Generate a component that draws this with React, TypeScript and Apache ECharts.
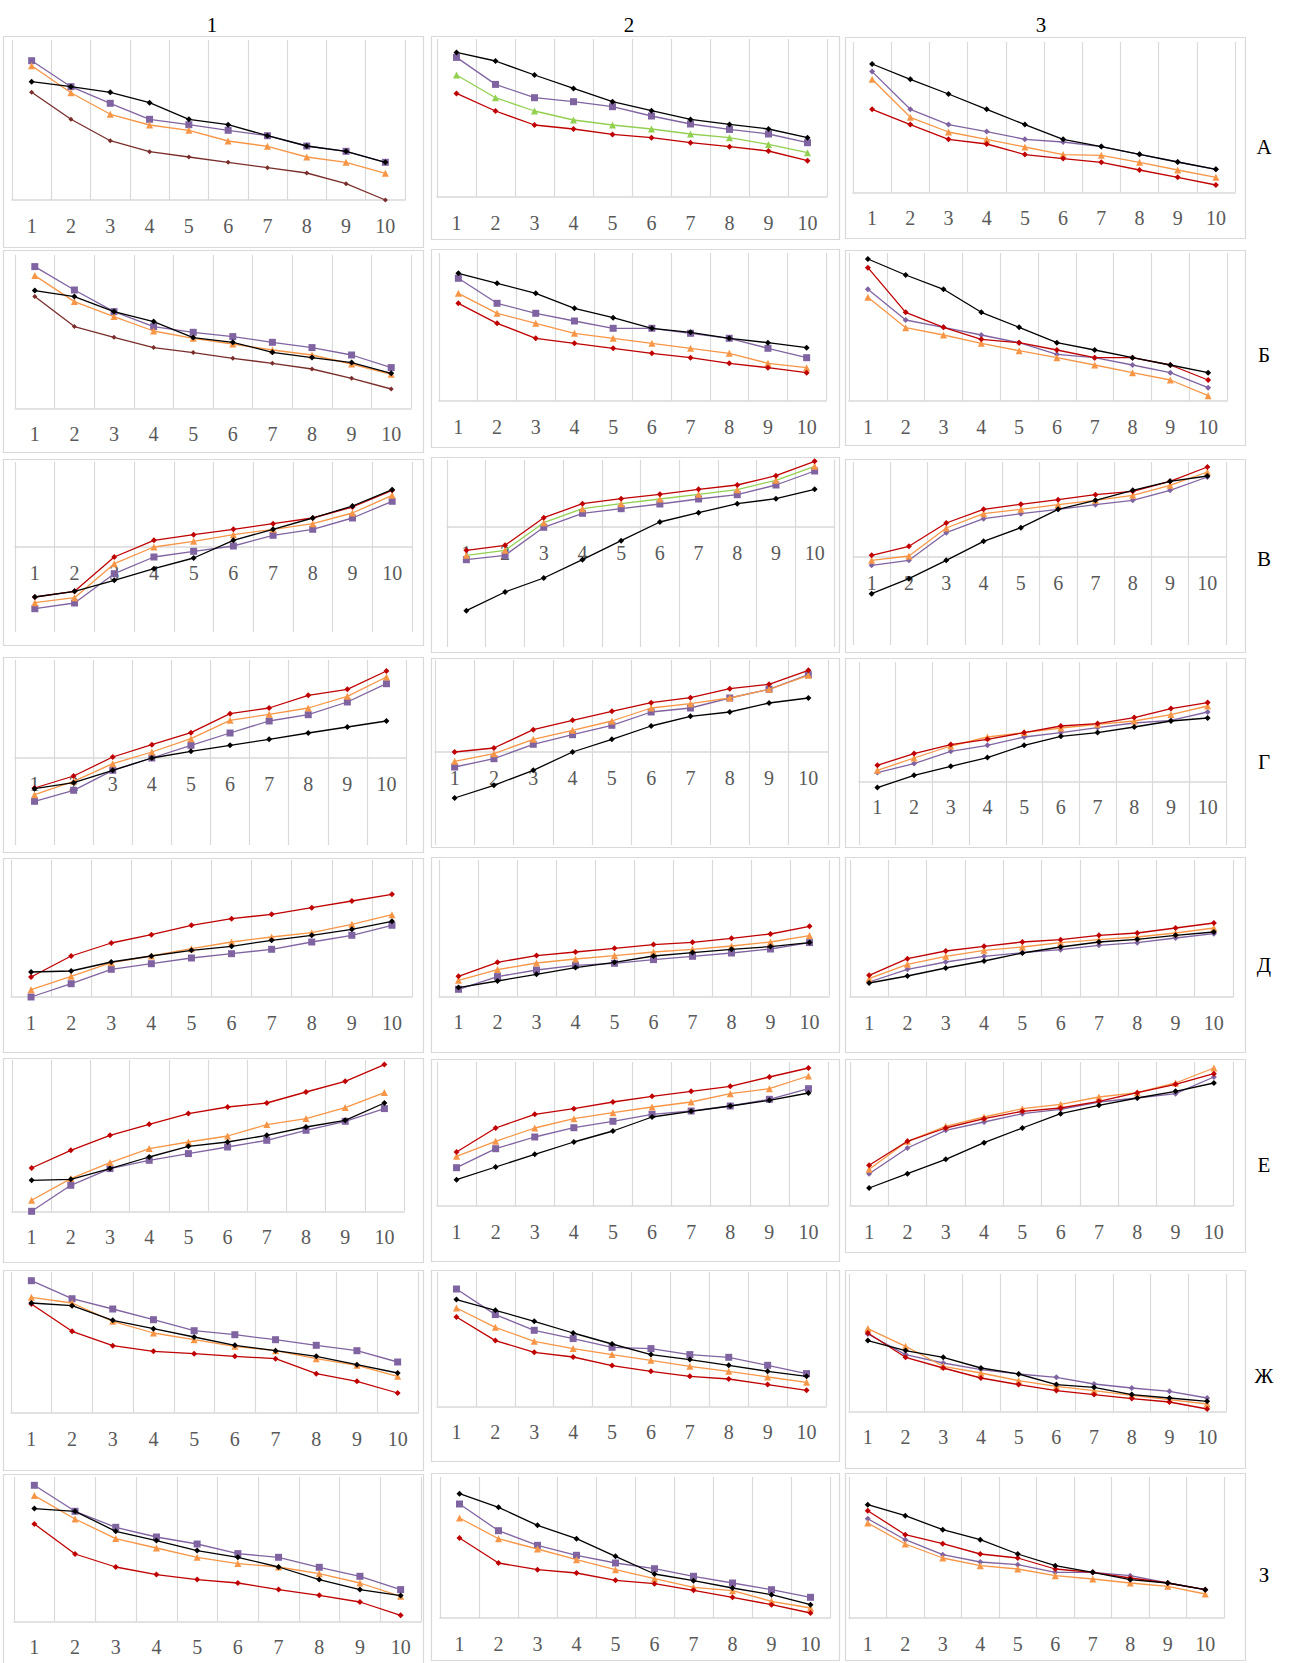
import React, { useEffect, useRef } from "react";
import * as echarts from "echarts";

// ---------- categories / labels ----------
const categories = ["1", "2", "3", "4", "5", "6", "7", "8", "9", "10"];
const columnTitles = ["1", "2", "3"];
const rowLabels = ["А", "Б", "В", "Г", "Д", "Е", "Ж", "З"];

// ---------- data (arbitrary units above the axis) ----------
// Row А
const A1_purple = [139.3, 113.3, 96.7, 80.7, 75.3, 69.7, 64.3, 54, 48.7, 37.7];
const A1_orange = [134.3, 107.3, 85.7, 75, 69.7, 59, 53.7, 43, 37.7, 26.7];
const A1_brown = [107.7, 80.7, 59.3, 48.3, 43, 37.7, 32.3, 27, 16.3, 0];
const A1_black = [118.3, 113.3, 107.7, 97.3, 80.7, 75.3, 64.3, 54, 48.7, 37.7];

const A2_purple = [139.3, 112.3, 99, 95, 90, 80.7, 72.7, 67.3, 62.7, 54];
const A2_green = [121.7, 99, 85.7, 76.7, 71.7, 67.7, 62.7, 59, 52.3, 44];
const A2_red = [103.3, 85.7, 71.7, 67.7, 62.3, 59, 54, 50, 45.7, 36];
const A2_black = [144.3, 135.7, 121.7, 108.3, 95, 86, 77.3, 72.3, 67.7, 59];

const A3_purple = [120.7, 83, 67.7, 60.7, 53, 50.3, 45.7, 38, 30.3, 23];
const A3_orange = [113, 75, 60.3, 53, 45.3, 37.7, 37, 30, 22.3, 15];
const A3_red = [83, 67.7, 53, 48.3, 37.7, 33.7, 30, 22.3, 15, 7.3];
const A3_black = [128.3, 113, 98.3, 83, 67.7, 53, 45.7, 38, 30.3, 23];

// Row Б
const B1_purple = [141.7, 118.3, 96.7, 81.7, 76, 71.7, 66, 60.7, 53.3, 40.7];
const B1_orange = [132.7, 106.7, 91.7, 77.3, 70, 64.3, 58.3, 53.3, 44.3, 34];
const B1_brown = [111.7, 81.7, 71, 60.7, 55.7, 50, 45, 39.3, 30, 19.3];
const B1_black = [117.7, 111.7, 96.7, 86.7, 70.7, 66, 56, 50.7, 45.7, 35];

const B2_purple = [122.7, 97.7, 87.7, 80, 72.7, 72.7, 67.7, 62.7, 52.7, 43.3];
const B2_orange = [107.7, 87.7, 77.7, 67.7, 62.7, 57.7, 52.7, 47.7, 37.7, 33.3];
const B2_red = [97.7, 77.7, 62.7, 57.7, 52.7, 47.7, 43.3, 37.7, 33.3, 28.3];
const B2_black = [127.7, 117.7, 107.7, 92.7, 83.3, 72.7, 68.7, 62.7, 58.3, 53.3];

const B3_purple = [111.7, 81, 73.7, 66, 58.3, 46.7, 43.3, 36, 28.3, 13.3];
const B3_orange = [103.7, 73.3, 66, 57.7, 50.3, 43.3, 36, 28.3, 21, 5.3];
const B3_red = [133.3, 88.7, 73.7, 61.7, 58.3, 51, 43.3, 43.3, 36, 21];
const B3_black = [142, 126, 111.7, 88.7, 73.7, 58.3, 51, 43.3, 36, 28.3];

// Row В
const V1_purple = [-61.7, -56, -26.7, -10, -4.3, 1, 11.7, 17.7, 29, 45.7];
const V1_orange = [-55.7, -50.7, -16.7, 0, 5.7, 12.3, 17.7, 23.3, 34, 51.7];
const V1_red = [-50, -44.3, -10, 6.7, 12.3, 17.7, 23.3, 29, 40, 56.7];
const V1_black = [-50, -44.3, -33.3, -21.7, -11, 6.7, 17.7, 29, 41, 57.3];

const V2_purple = [-32.7, -28.3, -0.3, 13.7, 18.3, 23, 28, 32.3, 42, 56];
const V2_green = [-28.3, -23.3, 4.3, 18.3, 23.3, 28, 32.7, 37.3, 46.7, 60.7];
const V2_red = [-23.3, -18.3, 9.3, 23.3, 28.3, 32.7, 37.7, 42, 51.3, 65.7];
const V2_black = [-83.7, -65, -51, -32.7, -13.7, 5, 14.3, 23.3, 28.3, 37.7];

const V3_purple = [-8.3, -3.3, 24.3, 38.3, 43.3, 47.7, 52.3, 56.7, 66.7, 80];
const V3_orange = [-3.3, 1, 29, 43.3, 47.7, 52.3, 56.7, 61.7, 71.7, 85];
const V3_red = [1.7, 10.7, 34, 47.7, 52.7, 57.3, 62.3, 65.7, 75.7, 90];
const V3_black = [-36.7, -21.7, -3.3, 15.7, 29.3, 47.7, 56.7, 66.7, 75.7, 81];

// Row Г
const G1_purple = [-43.3, -32.3, -12.3, 0, 12.7, 25, 37, 43.3, 56, 74.3];
const G1_orange = [-36.7, -23.3, -5.7, 6, 19.3, 37.7, 43.7, 50, 61.7, 81];
const G1_red = [-30, -18, 1, 13.3, 25.3, 44.3, 50, 62.7, 68.7, 87];
const G1_black = [-30.7, -24.7, -12.3, 0, 6.7, 12.7, 18.7, 25, 31, 37];

const G2_purple = [-15, -6.7, 7.7, 17.3, 26.7, 40, 44, 54, 62.7, 77.3];
const G2_orange = [-9.3, -1.7, 12.7, 21.7, 31, 44, 48.3, 54, 62.7, 76.7];
const G2_red = [0, 4, 22.3, 31.7, 40.7, 49.3, 54.3, 63.3, 67.7, 81.7];
const G2_black = [-46, -33.3, -18.3, 0, 12.7, 26, 35.7, 40, 49, 54];

const G3_purple = [8.7, 17.7, 30, 36, 44.3, 48.7, 53.7, 58.3, 61, 69.3];
const G3_orange = [11, 23.3, 35.3, 44.3, 48.7, 53.3, 57, 60.3, 66.7, 75.3];
const G3_red = [16, 27.7, 36.7, 42, 48.7, 55.3, 57.7, 63.7, 72.7, 78.7];
const G3_black = [-6.3, 6, 15, 23.7, 36, 45, 48.7, 54.3, 60.3, 63.3];

// Row Д
const D1_purple = [0, 13.3, 27.7, 33.3, 39, 43.3, 47.7, 55, 61.7, 71.7];
const D1_orange = [7.3, 20.7, 34.3, 41, 48.3, 55, 60, 64.3, 72.7, 82.3];
const D1_red = [20, 41, 54, 62.3, 71.7, 78.3, 82.7, 89.3, 96, 102.7];
const D1_black = [25, 26, 35, 41, 46.7, 50.7, 56.7, 61.7, 67.7, 75.7];

const D2_purple = [7, 19.7, 26.3, 31, 33, 36.7, 40, 43.3, 47.3, 53.7];
const D2_orange = [16, 26.7, 33.3, 37.3, 40.7, 44.3, 47, 50.3, 54.3, 60.7];
const D2_red = [20, 34, 40.7, 44.3, 48, 51.7, 54, 58, 62.3, 70];
const D2_black = [8.7, 15.3, 22, 28.7, 34, 40.3, 43.7, 47, 49.7, 53.7];

const D3_purple = [15, 27.7, 35, 40.7, 44.3, 47.3, 51.7, 54.3, 59, 63.3];
const D3_orange = [18.3, 32.7, 40.7, 46.7, 50, 54.3, 57.3, 60, 64, 69];
const D3_red = [21.7, 38.3, 46, 50.7, 55, 57.3, 61.7, 64, 69, 74];
const D3_black = [14, 21, 29, 36, 44, 50, 55, 57.7, 61.7, 65];

// Row Е
const E1_purple = [0, 26, 42.7, 51, 57.7, 64.3, 71, 81, 90, 102.7];
const E1_orange = [11, 32.7, 48.7, 62.7, 69.3, 75.3, 86.7, 92.7, 103.7, 118.7];
const E1_red = [43.3, 61, 76, 87, 97.7, 104.3, 108.3, 119.3, 130, 146.7];
const E1_black = [31, 32, 42.7, 54.3, 65, 69.3, 76, 84.3, 91, 108.3];

const E2_purple = [38.3, 57.3, 69, 78.3, 84.7, 91.7, 95, 100, 106.7, 117.3];
const E2_orange = [49.7, 64.7, 78, 87.3, 93.3, 99, 104, 112.3, 117.3, 130];
const E2_red = [54, 78, 91.7, 97.3, 104, 109.7, 114.7, 119.7, 129, 138];
const E2_black = [26.3, 39, 51.7, 64, 75, 89, 94.7, 100, 105.7, 113];

const E3_purple = [32.3, 58, 75.7, 84, 92.3, 96.7, 104, 108, 112.3, 129];
const E3_orange = [36.7, 64.7, 79.7, 89, 97.3, 101.7, 109, 113.3, 123, 138];
const E3_red = [40.7, 64.7, 78, 87.3, 94.7, 98, 104.7, 113.3, 121.7, 132.3];
const E3_black = [18, 32.3, 46.7, 63.3, 78, 92.3, 100.7, 108, 114.7, 123];

// Row Ж
const Zh1_purple = [132.3, 114.3, 104, 93.3, 82.3, 78.3, 73.3, 67.7, 62.3, 51];
const Zh1_orange = [115.7, 110, 91.7, 80, 73.3, 66.7, 62.3, 54.3, 47.7, 36.7];
const Zh1_red = [109, 81.7, 67.3, 61.7, 59.3, 56.7, 54.3, 39.3, 31.7, 20];
const Zh1_black = [110, 107.3, 92.7, 84.3, 76, 67.7, 62.3, 56.7, 48.3, 40];

const Zh2_purple = [117.3, 91.7, 76, 67.7, 59, 57.7, 51.7, 49, 41, 32.7];
const Zh2_orange = [98.3, 79, 65, 57.7, 51.7, 46, 40, 35, 29.3, 24];
const Zh2_red = [89.3, 65.7, 54, 49.3, 40.7, 35, 30, 27.3, 21.7, 16];
const Zh2_black = [106.7, 96, 85, 73.3, 62.3, 51.7, 46.7, 41, 35, 30];

const Zh3_purple = [77.3, 56.7, 48.3, 41.7, 37.3, 34, 27.3, 23.3, 20, 13.3];
const Zh3_orange = [82.7, 65, 45, 38.3, 30.7, 25, 20.7, 16, 11.7, 7.3];
const Zh3_red = [78.3, 54, 43.3, 33.3, 26.7, 20.7, 16.7, 12.7, 9.3, 2.3];
const Zh3_black = [70.7, 60.7, 54, 43.3, 37.3, 26.7, 24, 16.7, 13.3, 10];

// Row З
const Z1_purple = [136, 110, 94, 84.3, 77.3, 67.7, 64, 54, 45, 31.7];
const Z1_orange = [125.7, 102.3, 82.7, 73.3, 64, 57.7, 54.3, 47.7, 38.3, 25];
const Z1_red = [97.3, 67.3, 54.3, 46.7, 41.7, 38.3, 31.7, 26, 19.3, 6];
const Z1_black = [112.7, 110, 90, 80.7, 70.7, 64, 54.3, 41.7, 31.7, 25.7];

const Z2_purple = [114, 87.3, 72.7, 62.7, 55, 49.3, 41.7, 35, 28.3, 20.7];
const Z2_orange = [100, 79.3, 69, 58.3, 48.3, 39.3, 30.7, 27.3, 16.7, 10];
const Z2_red = [80, 55, 48.3, 45, 37.7, 34.3, 27.7, 20.7, 13.3, 5];
const Z2_black = [124.3, 110.7, 92.7, 79.3, 61.7, 44, 37.3, 30, 23.3, 13.3];

const Z3_purple = [99.3, 78.3, 63.3, 56, 53.3, 45.7, 45.7, 42.3, 35, 28.3];
const Z3_orange = [95, 74, 60, 52.3, 49, 42.3, 39, 35, 31.7, 24];
const Z3_red = [107.3, 83.3, 74.3, 64, 60, 49, 45.7, 40, 35, 28.3];
const Z3_black = [113.3, 102.3, 88.3, 78.3, 64, 52.3, 45.7, 38.3, 35, 28.3];

// ---------- series styles ----------
type Style = { line: string; marker: string; symbol: string; size: number };
const STYLES: Record<string, Style> = {
  black: { line: "#000000", marker: "#000000", symbol: "diamond", size: 6 },
  purple: { line: "#8064A2", marker: "#8064A2", symbol: "rect", size: 7 },
  purpleD: { line: "#8064A2", marker: "#8064A2", symbol: "diamond", size: 6 },
  orange: { line: "#F79646", marker: "#F79646", symbol: "triangle", size: 7 },
  red: { line: "#C00000", marker: "#C00000", symbol: "diamond", size: 6 },
  brown: { line: "#7A2E2B", marker: "#7A2E2B", symbol: "diamond", size: 5 },
  green: { line: "#92D050", marker: "#92D050", symbol: "triangle", size: 7 },
  greenOrange: { line: "#92D050", marker: "#F79646", symbol: "triangle", size: 7 },
};

const PANEL_SERIES: Record<string, [string, number[]][]> = {
  r0c0: [["purple", A1_purple], ["orange", A1_orange], ["brown", A1_brown], ["black", A1_black]],
  r0c1: [["purple", A2_purple], ["green", A2_green], ["red", A2_red], ["black", A2_black]],
  r0c2: [["purpleD", A3_purple], ["orange", A3_orange], ["red", A3_red], ["black", A3_black]],
  r1c0: [["purple", B1_purple], ["orange", B1_orange], ["brown", B1_brown], ["black", B1_black]],
  r1c1: [["purple", B2_purple], ["orange", B2_orange], ["red", B2_red], ["black", B2_black]],
  r1c2: [["purpleD", B3_purple], ["orange", B3_orange], ["red", B3_red], ["black", B3_black]],
  r2c0: [["purple", V1_purple], ["orange", V1_orange], ["red", V1_red], ["black", V1_black]],
  r2c1: [["purple", V2_purple], ["greenOrange", V2_green], ["red", V2_red], ["black", V2_black]],
  r2c2: [["purpleD", V3_purple], ["orange", V3_orange], ["red", V3_red], ["black", V3_black]],
  r3c0: [["purple", G1_purple], ["orange", G1_orange], ["red", G1_red], ["black", G1_black]],
  r3c1: [["purple", G2_purple], ["orange", G2_orange], ["red", G2_red], ["black", G2_black]],
  r3c2: [["purpleD", G3_purple], ["orange", G3_orange], ["red", G3_red], ["black", G3_black]],
  r4c0: [["purple", D1_purple], ["orange", D1_orange], ["red", D1_red], ["black", D1_black]],
  r4c1: [["purple", D2_purple], ["orange", D2_orange], ["red", D2_red], ["black", D2_black]],
  r4c2: [["purpleD", D3_purple], ["orange", D3_orange], ["red", D3_red], ["black", D3_black]],
  r5c0: [["purple", E1_purple], ["orange", E1_orange], ["red", E1_red], ["black", E1_black]],
  r5c1: [["purple", E2_purple], ["orange", E2_orange], ["red", E2_red], ["black", E2_black]],
  r5c2: [["purpleD", E3_purple], ["orange", E3_orange], ["red", E3_red], ["black", E3_black]],
  r6c0: [["purple", Zh1_purple], ["orange", Zh1_orange], ["red", Zh1_red], ["black", Zh1_black]],
  r6c1: [["purple", Zh2_purple], ["orange", Zh2_orange], ["red", Zh2_red], ["black", Zh2_black]],
  r6c2: [["purpleD", Zh3_purple], ["orange", Zh3_orange], ["red", Zh3_red], ["black", Zh3_black]],
  r7c0: [["purple", Z1_purple], ["orange", Z1_orange], ["red", Z1_red], ["black", Z1_black]],
  r7c1: [["purple", Z2_purple], ["orange", Z2_orange], ["red", Z2_red], ["black", Z2_black]],
  r7c2: [["purpleD", Z3_purple], ["orange", Z3_orange], ["red", Z3_red], ["black", Z3_black]],
};

// ---------- layout (pixels) ----------
const COL_BOX: [number, number][] = [[3, 423], [431, 839], [845, 1245]];
const COL_TITLE_X = [212, 629, 1041];
const ROW_LABEL_X = 1264;
const ROW_LABEL_Y = [147, 355, 559, 762, 965, 1165, 1376, 1575];

// [row, col, boxTop, boxBottom, plotLeft, plotRight, plotTop, axisY, plotBottom]
const LAYOUT: number[][] = [
  [0, 0, 36, 247, 12, 405, 40, 200, 200],
  [0, 1, 36, 239, 437, 827, 39, 196.7, 196.7],
  [0, 2, 37, 238, 853, 1235, 42, 192.3, 192.3],
  [1, 0, 250, 452, 15, 411, 255, 408.3, 408.3],
  [1, 1, 249, 447, 439, 826, 253, 401, 401],
  [1, 2, 250, 445, 849, 1227, 253, 401, 401],
  [2, 0, 459, 645, 15, 412, 462, 547, 632],
  [2, 1, 457, 652, 447, 834, 460, 527, 647],
  [2, 2, 459, 652, 853, 1226, 462, 557, 645],
  [3, 0, 657, 852, 15, 406, 660, 758, 845],
  [3, 1, 658, 847, 435, 828, 660, 752, 845],
  [3, 2, 658, 847, 859, 1226, 662, 781.3, 845],
  [4, 0, 858, 1052, 11, 412, 860, 997, 997],
  [4, 1, 857, 1052, 439, 829, 860, 996.3, 996.3],
  [4, 2, 857, 1052, 850, 1233, 860, 997, 997],
  [5, 0, 1058, 1262, 12, 404, 1060, 1211.3, 1211.3],
  [5, 1, 1059, 1261, 437, 828, 1062, 1206, 1206],
  [5, 2, 1059, 1252, 850, 1233, 1062, 1206, 1206],
  [6, 0, 1270, 1470, 11, 418, 1272, 1413, 1413],
  [6, 1, 1270, 1461, 437, 826, 1272, 1406.3, 1406.3],
  [6, 2, 1270, 1468, 849, 1226, 1274, 1411.3, 1411.3],
  [7, 0, 1474, 1672, 14, 421, 1477, 1621.3, 1621.3],
  [7, 1, 1473, 1660, 440, 830, 1477, 1618, 1618],
  [7, 2, 1473, 1660, 849, 1224, 1477, 1618, 1618],
];

const GRID_COLOR = "#D9D9D9";
const LABEL_FONT = "Liberation Serif";

function buildOption() {
  const grids: any[] = [];
  const xAxes: any[] = [];
  const yAxes: any[] = [];
  const series: any[] = [];
  const graphics: any[] = [];

  LAYOUT.forEach((p, i) => {
    const [row, col, boxTop, boxBottom, left, right, top, axisY, bottom] = p;
    const id = `r${row}c${col}`;
    const [bx1, bx2] = COL_BOX[col];
    graphics.push({
      type: "rect",
      silent: true,
      z: -10,
      shape: { x: bx1 + 0.5, y: boxTop + 0.5, width: bx2 - bx1, height: boxBottom - boxTop },
      style: { fill: "#FFFFFF", stroke: GRID_COLOR, lineWidth: 1.2 },
    });
    grids.push({ left, top, width: right - left, height: bottom - top, containLabel: false });
    // vertical gridlines spanning the whole plot area (no line / labels)
    xAxes.push({
      gridIndex: i,
      type: "category",
      data: categories,
      boundaryGap: true,
      axisTick: { show: false },
      axisLine: { show: false, onZero: false },
      axisLabel: { show: false },
      splitLine: { show: true, interval: 0, lineStyle: { color: GRID_COLOR, width: 1.2 } },
    });
    // horizontal axis line + labels, placed at the zero level
    xAxes.push({
      gridIndex: i,
      type: "category",
      data: categories,
      boundaryGap: true,
      position: "bottom",
      offset: axisY - bottom,
      axisTick: { show: false },
      axisLine: { show: true, onZero: false, lineStyle: { color: GRID_COLOR, width: 1.6 } },
      axisLabel: {
        interval: 0,
        color: "#595959",
        fontFamily: LABEL_FONT,
        fontSize: 20,
        margin: 16,
      },
      splitLine: { show: false },
    });
    yAxes.push({
      gridIndex: i,
      type: "value",
      min: -(bottom - axisY),
      max: axisY - top,
      show: false,
      splitLine: { show: false },
    });
    PANEL_SERIES[id].forEach(([kind, data], k) => {
      const st = STYLES[kind];
      series.push({
        type: "line",
        xAxisIndex: i * 2,
        yAxisIndex: i,
        data,
        symbol: st.symbol,
        symbolSize: st.size,
        showSymbol: true,
        showAllSymbol: true,
        clip: false,
        silent: true,
        z: 2 + k,
        lineStyle: { color: st.line, width: 1.3 },
        itemStyle: { color: st.marker },
      });
    });
  });

  columnTitles.forEach((t, c) => {
    graphics.push({
      type: "text",
      silent: true,
      x: COL_TITLE_X[c],
      y: 25,
      style: {
        text: t,
        font: `21px "${LABEL_FONT}"`,
        fill: "#000000",
        textAlign: "center",
        textVerticalAlign: "middle",
        verticalAlign: "middle",
      },
    });
  });
  rowLabels.forEach((t, r) => {
    graphics.push({
      type: "text",
      silent: true,
      x: ROW_LABEL_X,
      y: ROW_LABEL_Y[r],
      style: {
        text: t,
        font: `21px "${LABEL_FONT}"`,
        fill: "#000000",
        textAlign: "center",
        textVerticalAlign: "middle",
        verticalAlign: "middle",
      },
    });
  });

  return {
    animation: false,
    backgroundColor: "#FFFFFF",
    graphic: graphics,
    grid: grids,
    xAxis: xAxes,
    yAxis: yAxes,
    series,
  };
}

export default function App() {
  const ref = useRef<HTMLDivElement>(null);
  useEffect(() => {
    if (!ref.current) return;
    const chart = echarts.init(ref.current, undefined, { renderer: "svg" });
    chart.setOption(buildOption() as any);
    return () => chart.dispose();
  }, []);
  return (
    <div
      ref={ref}
      style={{ position: "absolute", left: 0, top: 0, width: 1290, height: 1663, background: "#FFFFFF" }}
    />
  );
}
